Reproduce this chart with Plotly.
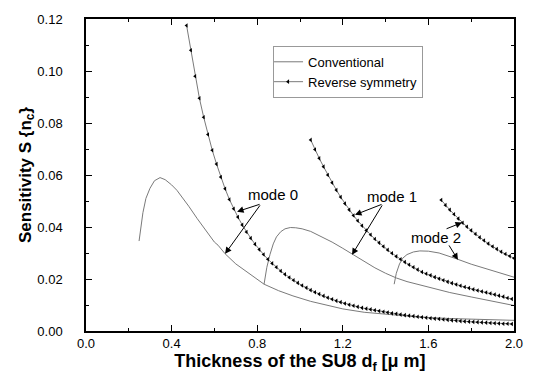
import plotly.graph_objects as go

# ---- data ----
conv0_x = [0.248, 0.266, 0.28, 0.299, 0.32, 0.346, 0.37, 0.40, 0.425, 0.45, 0.48, 0.52, 0.56, 0.60, 0.617, 0.65, 0.70, 0.766, 0.832, 0.90, 0.967, 1.05, 1.13, 1.20, 1.30, 1.42, 1.55, 1.70, 1.85, 2.00]
conv0_y = [0.0346, 0.0455, 0.0510, 0.0549, 0.0578, 0.0590, 0.0582, 0.0562, 0.0541, 0.0514, 0.0480, 0.0432, 0.0385, 0.0342, 0.0330, 0.0297, 0.0258, 0.0218, 0.0180, 0.0155, 0.0135, 0.0114, 0.0097, 0.0085, 0.0072, 0.0062, 0.0054, 0.0048, 0.0044, 0.0041]

conv1_x = [0.832, 0.845, 0.86, 0.875, 0.89, 0.91, 0.93, 0.955, 0.98, 1.01, 1.05, 1.10, 1.15, 1.20, 1.25, 1.30, 1.35, 1.40, 1.45, 1.50, 1.60, 1.70, 1.80, 1.90, 2.00]
conv1_y = [0.0180, 0.0245, 0.0295, 0.0335, 0.0362, 0.0382, 0.0393, 0.0398, 0.0397, 0.0393, 0.0383, 0.0364, 0.0342, 0.0318, 0.0292, 0.0268, 0.0243, 0.0222, 0.0204, 0.0190, 0.0168, 0.0148, 0.0131, 0.0114, 0.0098]

conv2_x = [1.44, 1.45, 1.465, 1.48, 1.50, 1.53, 1.56, 1.60, 1.65, 1.70, 1.73, 1.80, 1.90, 2.00]
conv2_y = [0.0180, 0.0222, 0.0258, 0.0280, 0.0294, 0.0304, 0.0308, 0.0307, 0.0300, 0.0288, 0.0278, 0.0257, 0.0232, 0.0207]

rev0_x = [0.47, 0.49, 0.51, 0.53, 0.55, 0.57, 0.59, 0.61, 0.63, 0.65, 0.67, 0.69, 0.71, 0.73, 0.75, 0.77, 0.79,
          0.81, 0.83, 0.85, 0.87, 0.89, 0.91, 0.93, 0.95, 0.97, 0.99, 1.01, 1.03, 1.05, 1.07, 1.09, 1.11, 1.13,
          1.15, 1.17, 1.19, 1.21, 1.23, 1.25, 1.27, 1.29, 1.31, 1.33, 1.35, 1.37, 1.39, 1.41, 1.43, 1.45, 1.47,
          1.49, 1.51, 1.53, 1.55, 1.57, 1.59, 1.61, 1.63, 1.65, 1.67, 1.69, 1.71, 1.73, 1.75, 1.77, 1.79, 1.81,
          1.83, 1.85, 1.87, 1.89, 1.91, 1.93, 1.95, 1.97, 1.99]
rev0_y = [0.1175, 0.1080, 0.0980, 0.0895, 0.0822, 0.0756, 0.0695, 0.0642, 0.0592, 0.0547, 0.0506, 0.0470, 0.0438,
          0.0408, 0.0381, 0.0357, 0.0334, 0.0313, 0.0294, 0.0276, 0.0260, 0.0245, 0.0231, 0.0218, 0.0206, 0.0195,
          0.0185, 0.0175, 0.0166, 0.0157, 0.0149, 0.0142, 0.0135, 0.0128, 0.0122, 0.0116, 0.0111, 0.0106, 0.0101,
          0.0097, 0.0093, 0.0089, 0.0086, 0.0083, 0.0080, 0.0077, 0.0074, 0.0071, 0.0068, 0.0066, 0.0063, 0.0061,
          0.0059, 0.0057, 0.0055, 0.0053, 0.0051, 0.0049, 0.0047, 0.0046, 0.0044, 0.0043, 0.0041, 0.0040, 0.0038,
          0.0037, 0.0036, 0.0035, 0.0034, 0.0033, 0.0032, 0.0031, 0.0030, 0.0029, 0.0028, 0.0028, 0.0027]

rev1_x = [1.05, 1.07, 1.09, 1.11, 1.13, 1.15, 1.17, 1.19, 1.21, 1.23, 1.25, 1.27, 1.29, 1.31, 1.33, 1.35, 1.37,
          1.39, 1.41, 1.43, 1.45, 1.47, 1.49, 1.51, 1.53, 1.55, 1.57, 1.59, 1.61, 1.63, 1.65, 1.67, 1.69, 1.71,
          1.73, 1.75, 1.77, 1.79, 1.81, 1.83, 1.85, 1.87, 1.89, 1.91, 1.93, 1.95, 1.97, 1.99]
rev1_y = [0.0735, 0.0698, 0.0664, 0.0632, 0.0600, 0.0570, 0.0542, 0.0515, 0.0490, 0.0466, 0.0444, 0.0424, 0.0405,
          0.0387, 0.0370, 0.0354, 0.0339, 0.0325, 0.0312, 0.0299, 0.0287, 0.0276, 0.0265, 0.0255, 0.0245, 0.0236,
          0.0227, 0.0220, 0.0214, 0.0207, 0.0201, 0.0195, 0.0189, 0.0184, 0.0179, 0.0174, 0.0169, 0.0165, 0.0160,
          0.0156, 0.0152, 0.0148, 0.0144, 0.0140, 0.0136, 0.0132, 0.0127, 0.0123]

rev2_x = [1.66, 1.68, 1.70, 1.72, 1.74, 1.76, 1.78, 1.80, 1.82, 1.84, 1.86, 1.88, 1.90, 1.92, 1.94, 1.96, 1.98, 2.00]
rev2_y = [0.0504, 0.0484, 0.0466, 0.0449, 0.0432, 0.0416, 0.0401, 0.0387, 0.0373, 0.0360, 0.0348, 0.0336, 0.0325,
          0.0315, 0.0305, 0.0296, 0.0288, 0.0280]

x_ticks = [0.0, 0.4, 0.8, 1.2, 1.6, 2.0]
x_ticktext = ["0.0", "0.4", "0.8", "1.2", "1.6", "2.0"]
y_ticks = [0.00, 0.02, 0.04, 0.06, 0.08, 0.10, 0.12]
y_ticktext = ["0.00", "0.02", "0.04", "0.06", "0.08", "0.10", "0.12"]

# annotations: label, text position, arrow tails/heads
mode_labels = ["mode 0", "mode 1", "mode 2"]
label_pos = [(0.874, 0.0524), (1.430, 0.0519), (1.636, 0.0361)]
arrows = [  # (tail_x, tail_y, head_x, head_y)
    (0.818, 0.0489, 0.706, 0.0459),
    (0.818, 0.0489, 0.650, 0.0297),
    (1.388, 0.0489, 1.257, 0.0447),
    (1.388, 0.0489, 1.243, 0.0293),
    (1.678, 0.0391, 1.757, 0.0417),
    (1.692, 0.0335, 1.738, 0.0274),
]

FONT = "Liberation Sans, Arial, sans-serif"
GRAY = "#7a7a7a"

fig = go.Figure()
conv_sets = [(conv0_x, conv0_y), (conv1_x, conv1_y), (conv2_x, conv2_y)]
for i, (xs, ys) in enumerate(conv_sets):
    fig.add_trace(go.Scatter(x=xs, y=ys, mode="lines", name="Conventional",
                             line=dict(color=GRAY, width=1), showlegend=(i == 0),
                             legendgroup="conv"))
rev_sets = [(rev0_x, rev0_y), (rev1_x, rev1_y), (rev2_x, rev2_y)]
for i, (xs, ys) in enumerate(rev_sets):
    fig.add_trace(go.Scatter(x=xs, y=ys, mode="lines+markers", name="Reverse symmetry",
                             line=dict(color=GRAY, width=1),
                             marker=dict(symbol="triangle-left", size=4, color="black"),
                             showlegend=(i == 0), legendgroup="rev"))

for txt, (tx, ty) in zip(mode_labels, label_pos):
    fig.add_annotation(x=tx, y=ty, text=txt, showarrow=False,
                       font=dict(family=FONT, size=15, color="black"))
for (ax_, ay_, hx, hy) in arrows:
    fig.add_annotation(x=hx, y=hy, ax=ax_, ay=ay_, xref="x", yref="y", axref="x", ayref="y",
                       text="", showarrow=True, arrowhead=2, arrowsize=1.3, arrowwidth=1,
                       arrowcolor="black", standoff=0, startstandoff=0)

axis_common = dict(showline=True, linecolor="black", linewidth=1.5, mirror="allticks",
                   ticks="inside", ticklen=6, tickwidth=1, tickcolor="black",
                   showgrid=False, zeroline=False,
                   tickfont=dict(family=FONT, size=13, color="black"))

fig.update_xaxes(range=[0, 2.0], tickvals=x_ticks, ticktext=x_ticktext,
                 minor=dict(dtick=0.2, tick0=0, ticks="inside", ticklen=3, tickcolor="black"),
                 title=dict(text="<b>Thickness of the SU8 d<sub>f</sub> [\u03bc m]</b>",
                            font=dict(family=FONT, size=18, color="black"), standoff=4),
                 **axis_common)
fig.update_yaxes(range=[0, 0.12], tickvals=y_ticks, ticktext=y_ticktext,
                 minor=dict(dtick=0.01, tick0=0, ticks="inside", ticklen=3, tickcolor="black"),
                 ticklabelstandoff=19,
                 title=dict(text="<b>Sensitivity S {n<sub>c</sub>}</b>",
                            font=dict(family=FONT, size=17, color="black"), standoff=1),
                 **axis_common)

fig.update_layout(
    width=542, height=381,
    margin=dict(l=86, r=28, t=12, b=50),
    plot_bgcolor="white", paper_bgcolor="white",
    legend=dict(x=0.437, y=0.914, xanchor="left", yanchor="top",
                bordercolor="#999999", borderwidth=1, bgcolor="white",
                font=dict(family=FONT, size=13, color="black"),
                tracegroupgap=0, itemwidth=30, itemsizing="trace",
                indentation=-6),
    showlegend=True,
)

fig.write_html("out.html")
